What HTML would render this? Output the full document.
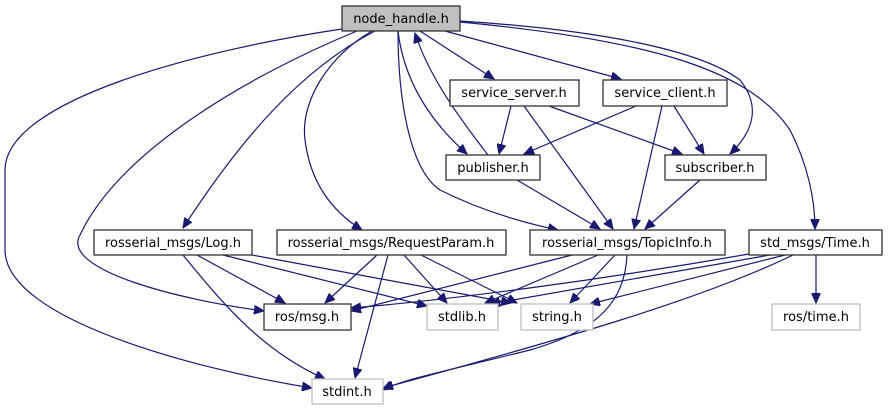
<!DOCTYPE html>
<html><head><meta charset="utf-8"><style>
html,body{margin:0;padding:0;background:#fff;}
svg{display:block;}
text{font-family:"DejaVu Sans","Liberation Sans",sans-serif;font-size:13px;fill:#000;}
.e{fill:none;stroke:#191970;stroke-width:1.2;}
.n{fill:#fff;stroke:#333;stroke-width:1.3;}
.g{fill:#fff;stroke:#bfbfbf;stroke-width:1.3;}
</style></head><body>
<svg width="888" height="411" viewBox="0 0 888 411" xmlns="http://www.w3.org/2000/svg">
<defs>
<marker id="a" markerWidth="11" markerHeight="9" refX="10" refY="4.5" orient="auto" markerUnits="userSpaceOnUse">
<path d="M0,0 L10,4.5 L0,9 z" fill="#191970" stroke="#191970"/>
</marker>
</defs>
<g marker-end="url(#a)">
<path class="e" d="M342,29 C200,50 5,100 5,170 L5,250 C5,320 200,370 312,388"/>
<path class="e" d="M357,31 C250,75 120,150 80,235 C60,270 180,300 264,311"/>
<path class="e" d="M375,31 C300,70 240,140 183,228"/>
<path class="e" d="M372,31 C330,55 300,100 305,140 C310,180 330,210 362,230"/>
<path class="e" d="M398,31 C398,100 410,170 440,190 C480,210 520,222 558,230"/>
<path class="e" d="M398,31 C405,90 440,130 467,154"/>
<path class="e" d="M488,155 C465,125 430,80 415,33"/>
<path class="e" d="M420,31 L494,79"/>
<path class="e" d="M445,31 L621,79"/>
<path class="e" d="M460,21 C600,30 700,50 740,80 C760,105 755,130 730,154"/>
<path class="e" d="M460,22 C650,40 750,70 790,130 C808,165 815,200 815,229"/>
<path class="e" d="M511,106 L499,154"/>
<path class="e" d="M524,106 L613,229"/>
<path class="e" d="M549,106 L682,154"/>
<path class="e" d="M636,106 L524,154"/>
<path class="e" d="M662,106 L634,229"/>
<path class="e" d="M674,106 L704,154"/>
<path class="e" d="M517,180 L600,229"/>
<path class="e" d="M700,180 L645,229"/>
<path class="e" d="M197,255 L285,303"/>
<path class="e" d="M183,255 C220,300 260,350 325,379"/>
<path class="e" d="M223,255 L427,306"/>
<path class="e" d="M252,255 L511,303"/>
<path class="e" d="M377,255 L325,303"/>
<path class="e" d="M388,255 L355,378"/>
<path class="e" d="M404,255 L447,303"/>
<path class="e" d="M421,255 L517,303"/>
<path class="e" d="M572,255 L351,311"/>
<path class="e" d="M749,254 C600,280 450,300 351,308"/>
<path class="e" d="M598,255 L485,303"/>
<path class="e" d="M615,255 L570,303"/>
<path class="e" d="M627,255 C625,300 600,330 530,350 C450,370 400,380 383,390"/>
<path class="e" d="M770,255 L490,304"/>
<path class="e" d="M785,255 L590,304"/>
<path class="e" d="M793,255 C700,300 560,340 383,388"/>
<path class="e" d="M816,255 L816,303"/>
</g>
<rect x="342" y="6" width="118" height="25" fill="#bfbfbf" stroke="#333" stroke-width="1.3"/>
<text x="401" y="23" text-anchor="middle">node_handle.h</text>
<rect class="n" x="450" y="80" width="129" height="26"/><text x="514" y="97" text-anchor="middle">service_server.h</text>
<rect class="n" x="603" y="80" width="124" height="26"/><text x="665" y="97" text-anchor="middle">service_client.h</text>
<rect class="n" x="446" y="155" width="94" height="25"/><text x="493" y="172" text-anchor="middle">publisher.h</text>
<rect class="n" x="665" y="155" width="101" height="25"/><text x="715" y="172" text-anchor="middle">subscriber.h</text>
<rect class="n" x="94" y="230" width="158" height="25"/><text x="173" y="247" text-anchor="middle">rosserial_msgs/Log.h</text>
<rect class="n" x="277" y="230" width="229" height="25"/><text x="391" y="247" text-anchor="middle">rosserial_msgs/RequestParam.h</text>
<rect class="n" x="530" y="230" width="195" height="25"/><text x="627" y="247" text-anchor="middle">rosserial_msgs/TopicInfo.h</text>
<rect class="n" x="749" y="230" width="133" height="25"/><text x="815" y="247" text-anchor="middle">std_msgs/Time.h</text>
<rect class="n" x="264" y="304" width="87" height="26"/><text x="307" y="321" text-anchor="middle">ros/msg.h</text>
<rect class="g" x="427" y="304" width="71" height="26"/><text x="462" y="321" text-anchor="middle">stdlib.h</text>
<rect class="g" x="521" y="304" width="72" height="26"/><text x="557" y="321" text-anchor="middle">string.h</text>
<rect class="g" x="772" y="304" width="88" height="26"/><text x="816" y="321" text-anchor="middle">ros/time.h</text>
<rect class="g" x="312" y="379" width="71" height="25"/><text x="347" y="396" text-anchor="middle">stdint.h</text>
</svg>
</body></html>
